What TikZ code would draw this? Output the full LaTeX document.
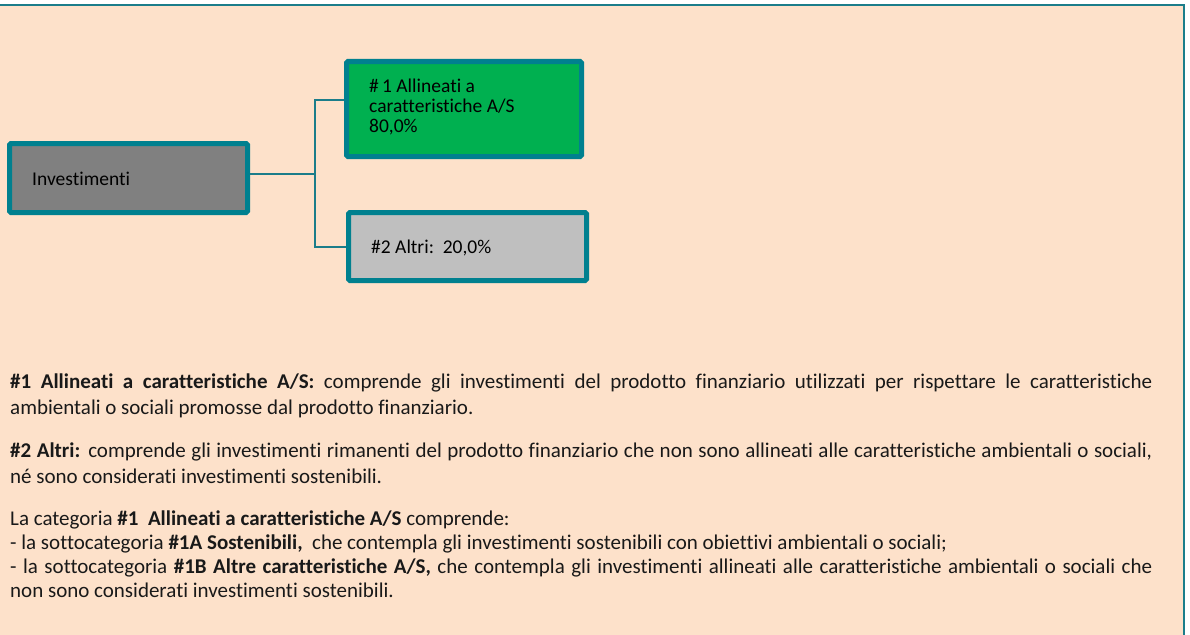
\documentclass[tikz,border=0pt]{standalone}
\usepackage{fontspec}
\setmainfont{Carlito}[Ligatures={NoCommon}]
\definecolor{peach}{HTML}{FDE1CA}
\definecolor{tealb}{HTML}{00808F}
\definecolor{tealline}{HTML}{1B7D8A}
\definecolor{greenb}{HTML}{00B050}
\definecolor{darkgrey}{HTML}{808080}
\definecolor{lightgrey}{HTML}{BFBFBF}
\newcommand{\jline}[1]{\makebox[1142pt][s]{#1}}
\tikzset{
  boxstyle/.style={draw=tealb, line width=5pt, rounded corners=1.5pt, inner sep=0pt},
  conn/.style={draw=tealline, line width=1.4pt},
  boxtext/.style={anchor=base west, inner sep=0pt, font=\fontsize{19.5}{20}\selectfont, align=left},
  para/.style={anchor=base west, inner sep=0pt, font=\fontsize{21}{28}\selectfont, text=black!90}
}
\begin{document}
\begin{tikzpicture}[x=1pt,y=-1pt]
\useasboundingbox (0,0) rectangle (1190,634);
\fill[white] (0,0) rectangle (1190,634);
\fill[peach] (-5,5) rectangle (1184,640);
\draw[tealline, line width=2pt] (-5,5) -- (1184,5) -- (1184,640);

% boxes
\node[boxstyle, fill=darkgrey, minimum width=238pt, minimum height=69pt] (inv) at (128.5,178) {};
\node[boxstyle, fill=greenb, minimum width=235pt, minimum height=95pt] (g1) at (464,109) {};
\node[boxstyle, fill=lightgrey, minimum width=238pt, minimum height=68pt] (g2) at (467.5,246.5) {};

% box texts
\node[boxtext] (tg1) at (369,132.5) {\#\,1 Allineati a\\caratteristiche A/S\\80,0\%};
\node[boxtext] (tinv) at (32,185) {Investimenti};
\node[boxtext] (tg2) at (371,253.5) {\#2 Altri:\ \ 20,0\%};

% connectors
\coordinate (j) at (315,174);
\coordinate (g1in) at (344,100);
\coordinate (g2in) at (346,247);
\draw[conn] (inv.east |- j) -- (j);
\draw[conn] (g1in) -| (j);
\draw[conn] (g2in) -| (j);

% paragraph text
\node[para] (p1) at (10,388) {\jline{\textbf{\#1 Allineati a caratteristiche A/S:} comprende gli investimenti del prodotto finanziario utilizzati per rispettare le caratteristiche}};
\node[para] (p2) at (10,414) {ambientali o sociali promosse dal prodotto finanziario.};
\node[para] (p3) at (10,457) {\jline{\textbf{\#2 Altri:} comprende gli investimenti rimanenti del prodotto finanziario che non sono allineati alle caratteristiche ambientali o sociali,}};
\node[para] (p4) at (10,483) {né sono considerati investimenti sostenibili.};
\node[para] (p5) at (10,525) {La categoria \textbf{\#1\ \ Allineati a caratteristiche A/S} comprende:};
\node[para] (p6) at (10,549) {- la sottocategoria \textbf{\#1A Sostenibili,}\ \ che contempla gli investimenti sostenibili con obiettivi ambientali o sociali;};
\node[para] (p7) at (10,573) {\jline{- la sottocategoria \textbf{\#1B Altre caratteristiche A/S,} che contempla gli investimenti allineati alle caratteristiche ambientali o sociali che}};
\node[para] (p8) at (10,597) {non sono considerati investimenti sostenibili.};
\end{tikzpicture}
\end{document}
